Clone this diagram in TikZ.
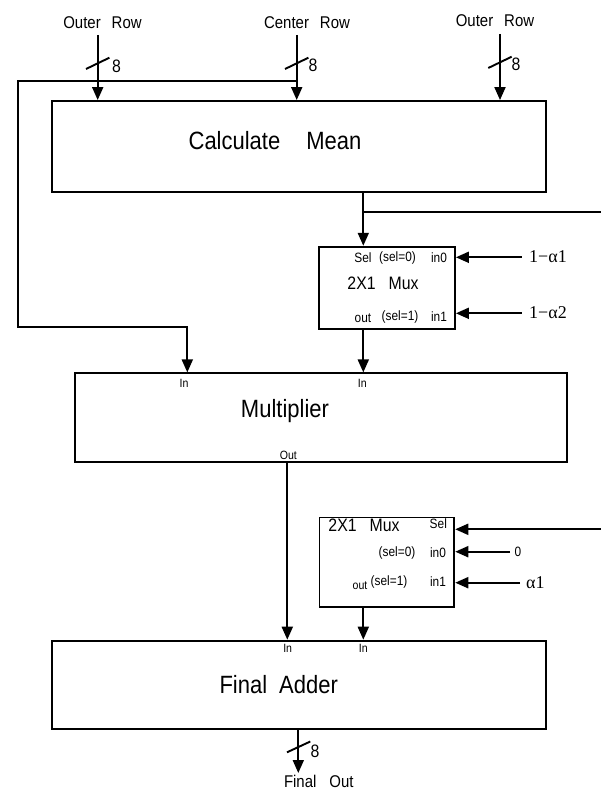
\documentclass[tikz,border=0pt]{standalone}
\usepackage{fontspec}
\setmainfont{Liberation Sans}[FakeStretch=0.88]
\newfontfamily\alffont{Liberation Serif}
\usetikzlibrary{arrows.meta}
\begin{document}
\begin{tikzpicture}[x=1pt,y=-1pt,
  wire/.style={line width=1.9pt},
  arr/.style={wire,-{Triangle[length=13pt,width=11pt]}},
  blk/.style={draw,line width=1.9pt,inner sep=0pt},
  bigtxt/.style={font=\fontsize{25}{29}\selectfont,inner sep=0pt},
  midtxt/.style={font=\fontsize{17}{20}\selectfont,inner sep=0pt},
  numtxt/.style={font=\fontsize{18}{21}\selectfont,inner sep=0pt},
  smltxt/.style={font=\fontsize{13.5}{16}\selectfont,inner sep=0pt},
  pintxt/.style={font=\fontsize{12}{14}\selectfont,inner sep=0pt},
  alftxt/.style={font=\alffont\fontsize{18}{21}\selectfont,inner sep=0pt},
]
\useasboundingbox (0,0) rectangle (601,792);

% blocks
\node[blk,minimum width=494pt,minimum height=91pt] (calc) at (298.7,146.5) {};
\node[blk,minimum width=491.7pt,minimum height=88.7pt] (mul) at (320.8,417.7) {};
\node[blk,minimum width=494.3pt,minimum height=88.3pt] (add) at (298.8,684.8) {};
\node[blk,minimum width=135.7pt,minimum height=82.6pt] (muxa) at (387.1,288) {};
\node[blk,minimum width=134.8pt,minimum height=89.2pt] (muxb) at (386.9,562.1) {};

% block texts
\node[bigtxt] (calcT) at (275,141) {Calculate\hspace{26pt}Mean};
\node[bigtxt] (mulT) at (285,411) {Multiplier};
\node[bigtxt] (addT) at (278.7,685) {Final\hspace{12pt}Adder};

% top inputs
\node[midtxt] (o1T) at (102.5,22.7) {Outer\hspace{11pt}Row};
\node[midtxt] (cT) at (307,22.7) {Center\hspace{11pt}Row};
\node[midtxt] (o2T) at (495,21) {Outer\hspace{11pt}Row};
\coordinate (o1) at (97.7,35);
\coordinate (c1) at (296.7,35);
\coordinate (o2) at (500,34);
\draw[arr] (o1) -- (o1 |- calc.north);
\draw[arr] (c1) -- (c1 |- calc.north);
\draw[arr] (o2) -- (o2 |- calc.north);
\draw[wire] (86,69) -- (109.4,57.7);
\draw[wire] (285,69) -- (308.4,57.7);
\draw[wire] (488.3,68) -- (511.7,56.7);
\node[numtxt] (n1) at (116.5,66) {8};
\node[numtxt] (n2) at (313,65) {8};
\node[numtxt] (n3) at (516,64) {8};

% left feed wire
\coordinate (jn) at (296.7,80.7);
\coordinate (lw1) at (17.7,80.7);
\coordinate (lw2) at (17.7,326.7);
\coordinate (mi1) at (187.3,326.7);
\draw[arr] (jn) -- (lw1) -- (lw2) -- (mi1) -- (mi1 |- mul.north);

% calc -> mux a
\coordinate (ca) at (363.3,192);
\coordinate (br) at (363.3,212.3);
\coordinate (brE) at (601,212.3);
\draw[arr] (ca |- calc.south) -- (ca |- muxa.north);
\draw[wire] (br) -- (brE);

% mux a labels
\node[smltxt] (maSel) at (363,258) {Sel};
\node[smltxt] (maS0) at (397.5,258) {(sel=0)};
\node[smltxt] (maI0) at (439,258) {in0};
\node[numtxt] (maT) at (383,283.3) {2X1\hspace{13pt}Mux};
\node[smltxt] (maOut) at (363,318.5) {out};
\node[smltxt] (maS1) at (400,316.7) {(sel=1)};
\node[smltxt] (maI1) at (439,316.7) {in1};

% mux a inputs
\coordinate (ai0) at (521.7,257.3);
\coordinate (ai1) at (521.7,313.3);
\draw[arr] (ai0) -- (ai0 -| muxa.east);
\draw[arr] (ai1) -- (ai1 -| muxa.east);
\node[alftxt,anchor=west] (a1T) at (529,257) {1−α1};
\node[alftxt,anchor=west] (a2T) at (529,313) {1−α2};

% mux a -> multiplier
\coordinate (mo) at (363.3,329);
\draw[arr] (mo |- muxa.south) -- (mo |- mul.north);

% multiplier labels
\node[pintxt] (mIn1) at (184,383) {In};
\node[pintxt] (mIn2) at (362.3,383) {In};
\node[pintxt] (mOut) at (288.3,455) {Out};

% multiplier -> adder
\coordinate (mx) at (287.3,462);
\draw[arr] (mx |- mul.south) -- (mx |- add.north);

% mux b labels
\node[numtxt] (mbT) at (364,525) {2X1\hspace{13pt}Mux};
\node[smltxt] (mbSel) at (438.3,523.5) {Sel};
\node[smltxt] (mbS0) at (397,552.7) {(sel=0)};
\node[smltxt] (mbI0) at (438,552.7) {in0};
\node[smltxt] (mbS1) at (389,581.7) {(sel=1)};
\node[pintxt] (mbOut) at (360,586) {out};
\node[smltxt] (mbI1) at (438,581.7) {in1};

% mux b inputs
\coordinate (bs) at (601,529.3);
\coordinate (bi0) at (510,551.7);
\coordinate (bi1) at (520,582.7);
\draw[arr] (bs) -- (bs -| muxb.east);
\draw[arr] (bi0) -- (bi0 -| muxb.east);
\draw[arr] (bi1) -- (bi1 -| muxb.east);
\node[smltxt,anchor=west] (zT) at (514.5,551.7) {0};
\node[alftxt,anchor=west] (a3T) at (526,582.7) {α1};

% mux b -> adder
\coordinate (bo) at (363.3,606);
\draw[arr] (bo |- muxb.south) -- (bo |- add.north);

% adder labels
\node[pintxt] (aIn1) at (287.7,648.5) {In};
\node[pintxt] (aIn2) at (363.3,648.5) {In};

% final out
\coordinate (fo) at (298.3,729);
\coordinate (foE) at (298.3,773);
\draw[arr] (fo |- add.south) -- (foE);
\draw[wire] (287,752.3) -- (310.3,741.5);
\node[numtxt] (n4) at (315,751) {8};
\node[midtxt] (foT) at (318.8,781.5) {Final\hspace{13pt}Out};
\end{tikzpicture}
\end{document}
